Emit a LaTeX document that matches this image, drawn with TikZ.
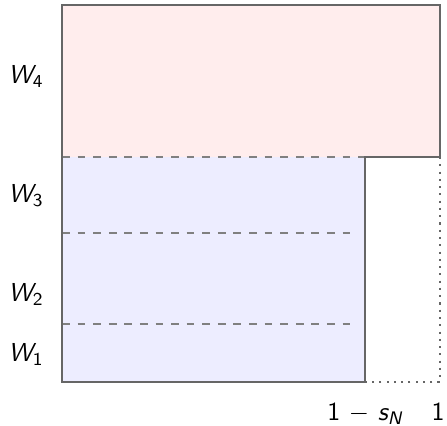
\documentclass[tikz,border=0pt]{standalone}
\usepackage{xcolor}
\usepackage{amsmath}
\usepackage{tikz}
\usetikzlibrary{positioning}

\definecolor{boxline}{gray}{0.40}
\newcommand{\sfit}[1]{{\sffamily\itshape #1}}

\begin{document}
\begin{tikzpicture}[
            x = 0.385pt, y = -0.385pt,
            every node/.style = {
                inner sep = 0pt,
                anchor = base,
                font = \sffamily
            },
            top/.style = {
                fill = red!7
            },
            bottom/.style = {
                fill = blue!7
            },
            edge/.style = {
                draw = boxline,
                line width = 0.8pt
            },
            split/.style = {
                draw = gray,
                dashed,
                line width = 0.6pt
            },
            gap/.style = {
                draw = boxline,
                dotted,
                line width = 0.8pt
            }
        ]
            \useasboundingbox (0,0) rectangle (447,426);

            % corners
            \coordinate (nw) at (62,5);
            \coordinate (ne) at (440,5);
            \coordinate (me) at (440,157);
            \coordinate (mw) at (62,157);
            \coordinate (mc) at (365,157);
            \coordinate (sc) at (365,382);
            \coordinate (sw) at (62,382);
            \coordinate (se) at (440,382);

            % areas
            \fill[top] (nw) rectangle (me);
            \fill[bottom] (mw) rectangle (sc);

            % cuts
            \coordinate (a3) at (62,233);
            \coordinate (b3) at (358,233);
            \coordinate (a2) at (62,324);
            \coordinate (b2) at (358,324);
            \draw[split] (mw) -- (mc);
            \draw[split] (a3) -- (b3);
            \draw[split] (a2) -- (b2);

            % outline
            \draw[edge] (mc) -- (me) -- (ne) -- (nw) -- (sw) -- (sc) -- cycle;
            \draw[gap] (me) -- (se) -- (sc);

            % labels
            \node (w4) at (26,84) {\sfit{W}$_{\textsf{4}}$};
            \node (w3) at (26,203) {\sfit{W}$_{\textsf{3}}$};
            \node (w2) at (26,302) {\sfit{W}$_{\textsf{2}}$};
            \node (w1) at (26,362) {\sfit{W}$_{\textsf{1}}$};
            \node (xs) at (365,421) {1 $-$ \sfit{s}$_{\textsf{\itshape N}}$};
            \node (xo) at (438,421) {1};
        \end{tikzpicture}
\end{document}
